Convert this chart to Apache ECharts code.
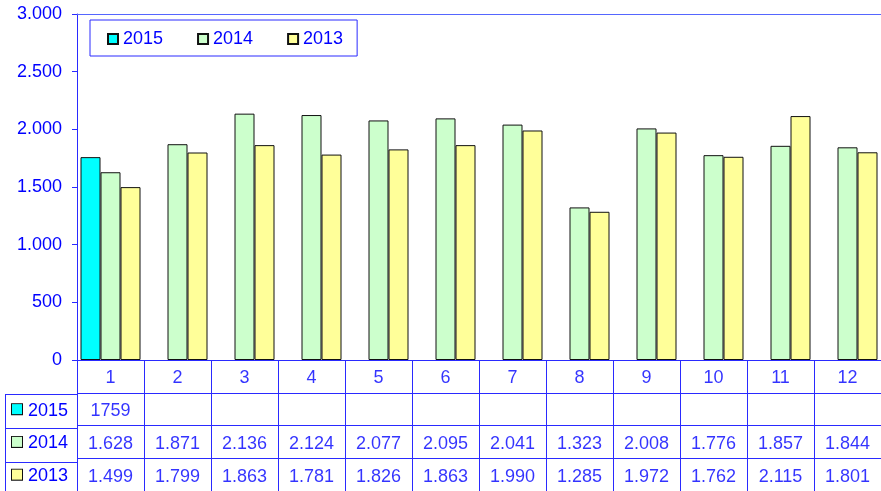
<!DOCTYPE html>
<html>
<head>
<meta charset="utf-8">
<script src="https://cdn.jsdelivr.net/npm/echarts@6/dist/echarts.min.js"></script>
<style>
  html, body { margin: 0; padding: 0; background: #fff; }
  #chart { width: 881px; height: 491px; }
</style>
</head>
<body>
<div id="chart"></div>
<script>
// data
const categories = ["1", "2", "3", "4", "5", "6", "7", "8", "9", "10", "11", "12"]
const years = ["2015", "2014", "2013"]
const values2015 = [1759]
const values2014 = [1628, 1871, 2136, 2124, 2077, 2095, 2041, 1323, 2008, 1776, 1857, 1844]
const values2013 = [1499, 1799, 1863, 1781, 1826, 1863, 1990, 1285, 1972, 1762, 2115, 1801]
const yTicks = [0, 500, 1000, 1500, 2000, 2500, 3000]

const colors = ["#00ffff", "#ccffcc", "#ffff99"]
const blue = "#0000ff"
const lineBlue = "#2a2aff"
const font = "Liberation Sans"

// layout
const GRID_LEFT = 77
const PLOT_TOP = 14
const AXIS_Y = 360
const CAT_W = 68
const ROW_H = 34

// 1.628 style, the 2015 row is written without separator in the source
const dot = (v) => String(v).replace(/\B(?=(\d{3})+(?!\d))/g, ".")

const seriesValues = [values2015, values2014, values2013]
const tableRows = ["", ...years]

// table cells: category numbers on row 0, then one row per year
const tableData = []
categories.forEach((c, i) => tableData.push([i, "", c]))
seriesValues.forEach((arr, r) => {
  arr.forEach((v, i) => {
    tableData.push([i, years[r], r === 0 ? String(v) : dot(v)])
  })
})

const rich = { t: { color: blue, fontFamily: font, fontSize: 18, padding: [3, 0, 0, 6] } }
years.forEach((y, i) => {
  rich["b" + i] = { width: 10, height: 10, backgroundColor: colors[i], borderColor: "#111", borderWidth: 1 }
})

const leftCol = []
for (let r = 1; r <= 3; r++) {
  const y = Math.round(AXIS_Y + ROW_H * r) + 0.5
  leftCol.push({ type: "line", shape: { x1: 5, y1: y, x2: GRID_LEFT, y2: y }, style: { stroke: lineBlue, lineWidth: 1 } })
}
leftCol.push({
  type: "line",
  shape: { x1: 5.5, y1: Math.round(AXIS_Y + ROW_H) + 0.5, x2: 5.5, y2: 491 },
  style: { stroke: lineBlue, lineWidth: 1 },
})

const chart = echarts.init(document.getElementById("chart"))

const option = {
  animation: false,
  textStyle: { fontFamily: font },
  legend: {
    data: years,
    left: 90,
    top: 20,
    padding: [10, 14, 8, 17],
    itemGap: 34,
    itemWidth: 10,
    itemHeight: 10,
    icon: "rect",
    borderColor: lineBlue,
    borderWidth: 1,
    backgroundColor: "#fff",
    textStyle: { color: blue, fontFamily: font, fontSize: 18 },
  },
  grid: [
    { left: GRID_LEFT, top: PLOT_TOP, width: CAT_W * 12, height: AXIS_Y - PLOT_TOP },
    { left: GRID_LEFT, top: AXIS_Y, width: CAT_W * 12, height: ROW_H * 4 },
  ],
  xAxis: [
    {
      type: "category",
      gridIndex: 0,
      data: categories,
      axisLine: { lineStyle: { color: lineBlue } },
      axisTick: { show: false },
      axisLabel: { show: false },
    },
    {
      type: "category",
      gridIndex: 0,
      position: "top",
      data: categories,
      axisLine: { lineStyle: { color: "#5566ff" } },
      axisTick: { show: false },
      axisLabel: { show: false },
    },
    {
      type: "category",
      gridIndex: 1,
      data: categories,
      axisLine: { show: false },
      axisTick: { show: false },
      axisLabel: { show: false },
      splitLine: { show: true, interval: 0, lineStyle: { color: lineBlue } },
    },
  ],
  yAxis: [
    {
      type: "value",
      gridIndex: 0,
      min: yTicks[0],
      max: yTicks[yTicks.length - 1],
      interval: 500,
      axisLine: { show: true, lineStyle: { color: lineBlue } },
      axisTick: { show: true, length: 5, lineStyle: { color: lineBlue } },
      splitLine: { show: false },
      axisLabel: {
        color: blue,
        fontFamily: font,
        fontSize: 18,
        margin: 15,
        formatter: (v) => dot(v),
      },
    },
    {
      type: "category",
      gridIndex: 1,
      inverse: true,
      data: tableRows,
      axisLine: { show: true, lineStyle: { color: lineBlue } },
      axisTick: { show: false },
      splitLine: { show: true, interval: 0, lineStyle: { color: lineBlue } },
      axisLabel: {
        align: "left",
        margin: GRID_LEFT - 12,
        interval: 0,
        rich: rich,
        formatter: (v) => {
          const i = years.indexOf(v)
          return i < 0 ? "" : "{b" + i + "|}{t|" + v + "}"
        },
      },
    },
  ],
  series: [
    ...years.map((y, i) => ({
      name: y,
      type: "bar",
      xAxisIndex: 0,
      yAxisIndex: 0,
      data: seriesValues[i],
      barWidth: 20,
      barGap: "0%",
      itemStyle: { color: colors[i], borderColor: "#111", borderWidth: 1 },
    })),
    {
      name: "table",
      type: "scatter",
      xAxisIndex: 2,
      yAxisIndex: 1,
      data: tableData,
      symbolSize: 1,
      itemStyle: { color: "rgba(0,0,0,0)" },
      label: {
        show: true,
        position: "inside",
        offset: [0, 2],
        color: blue,
        fontFamily: font,
        fontSize: 18,
        formatter: (p) => p.value[2],
      },
      silent: true,
    },
  ],
  graphic: leftCol,
}

chart.setOption(option)
</script>
</body>
</html>
